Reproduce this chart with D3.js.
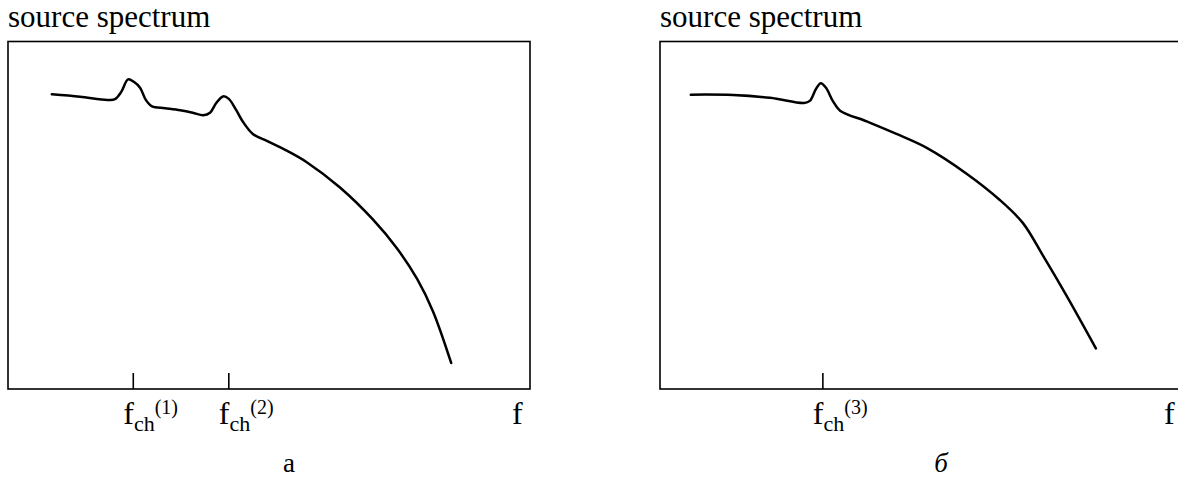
<!DOCTYPE html>
<html>
<head>
<meta charset="utf-8">
<script src="https://cdn.jsdelivr.net/npm/d3@7"></script>
<style>
  body { margin: 0; background: #fff; }
  text { font-family: "Liberation Serif", "Times New Roman", serif; fill: #000; }
</style>
</head>
<body>
<script>
'use strict'

// spectrum (a): two resonance bumps
const freqA = [8.4, 13.8, 19.0, 20.5, 21.7, 23.0, 24.1, 25.3, 26.4, 27.6, 30.1, 33.0, 35.4, 37.4, 38.7, 39.9, 41.2, 42.3, 43.7, 45.0, 46.9, 49.6, 53.5, 57.3, 63.6, 69.9, 74.5, 78.4, 81.4, 84.9]
const levelA = [84.8, 84.1, 83.2, 83.4, 85.5, 89.1, 88.4, 86.7, 83.2, 81.3, 80.8, 80.2, 79.5, 78.8, 79.5, 82.3, 84.2, 83.5, 80.3, 76.9, 73.4, 71.4, 68.5, 65.2, 58.0, 48.8, 40.5, 31.6, 22.4, 7.5]
const ticksA = [24.0, 42.3]
const tickLabelsA = ['(1)', '(2)']

// spectrum (б): one resonance bump
const freqB = [5.9, 14.0, 21.1, 27.6, 28.7, 29.9, 30.8, 31.8, 33.1, 34.5, 39.6, 45.3, 51.1, 58.8, 65.1, 69.5, 73.4, 77.9, 83.5]
const levelB = [84.7, 84.6, 83.8, 82.3, 82.9, 86.4, 88.0, 86.7, 82.9, 80.1, 77.0, 73.4, 69.4, 61.9, 54.4, 47.8, 38.3, 26.8, 11.7]
const ticksB = [31.2]
const tickLabelsB = ['(3)']

const panelNames = ['a', 'б']

const W = 1178, H = 479
const boxW = 522, boxTop = 41.5, boxBottom = 389

const svg = d3.select('body').append('svg')
  .attr('width', W)
  .attr('height', H)

function drawPanel(left, freq, level, ticks, tickLabels, name, italic) {
  const x = d3.scaleLinear().domain([0, 100]).range([left, left + boxW])
  const y = d3.scaleLinear().domain([0, 100]).range([boxBottom, boxTop])
  const g = svg.append('g')

  g.append('text')
    .attr('x', left)
    .attr('y', 27)
    .style('font-size', '31px')
    .text('source spectrum')

  g.append('rect')
    .attr('x', x(0))
    .attr('y', y(100))
    .attr('width', x(100) - x(0))
    .attr('height', y(0) - y(100))
    .attr('fill', 'none')
    .attr('stroke', '#000')
    .attr('stroke-width', 1.6)

  const pts = freq.map((f, i) => [f, level[i]])
  const line = d3.line()
    .x(d => x(d[0]))
    .y(d => y(d[1]))
    .curve(d3.curveCatmullRom.alpha(0.5))

  g.append('path')
    .attr('d', line(pts))
    .attr('fill', 'none')
    .attr('stroke', '#000')
    .attr('stroke-width', 2.5)
    .attr('stroke-linejoin', 'round')
    .attr('stroke-linecap', 'round')

  // characteristic frequency marks
  ticks.forEach((t, i) => {
    g.append('line')
      .attr('x1', x(t)).attr('x2', x(t))
      .attr('y1', boxBottom - 16).attr('y2', boxBottom)
      .attr('stroke', '#000')
      .attr('stroke-width', 1.6)

    const lab = g.append('text')
      .attr('x', x(t) - 10)
      .attr('y', 424)
      .style('font-size', '32px')
    lab.append('tspan').text('f')
    lab.append('tspan').attr('dy', 7).style('font-size', '22px').text('ch')
    lab.append('tspan').attr('dy', -17).style('font-size', '20px').text(tickLabels[i])
  })

  g.append('text')
    .attr('x', x(100) - 18)
    .attr('y', 424)
    .style('font-size', '32px')
    .text('f')

  g.append('text')
    .attr('x', x(50) + 20)
    .attr('y', 472)
    .attr('text-anchor', 'middle')
    .style('font-size', '27px')
    .style('font-style', italic ? 'italic' : 'normal')
    .text(name)
}

drawPanel(8, freqA, levelA, ticksA, tickLabelsA, panelNames[0], false)
drawPanel(660, freqB, levelB, ticksB, tickLabelsB, panelNames[1], true)
</script>
</body>
</html>
